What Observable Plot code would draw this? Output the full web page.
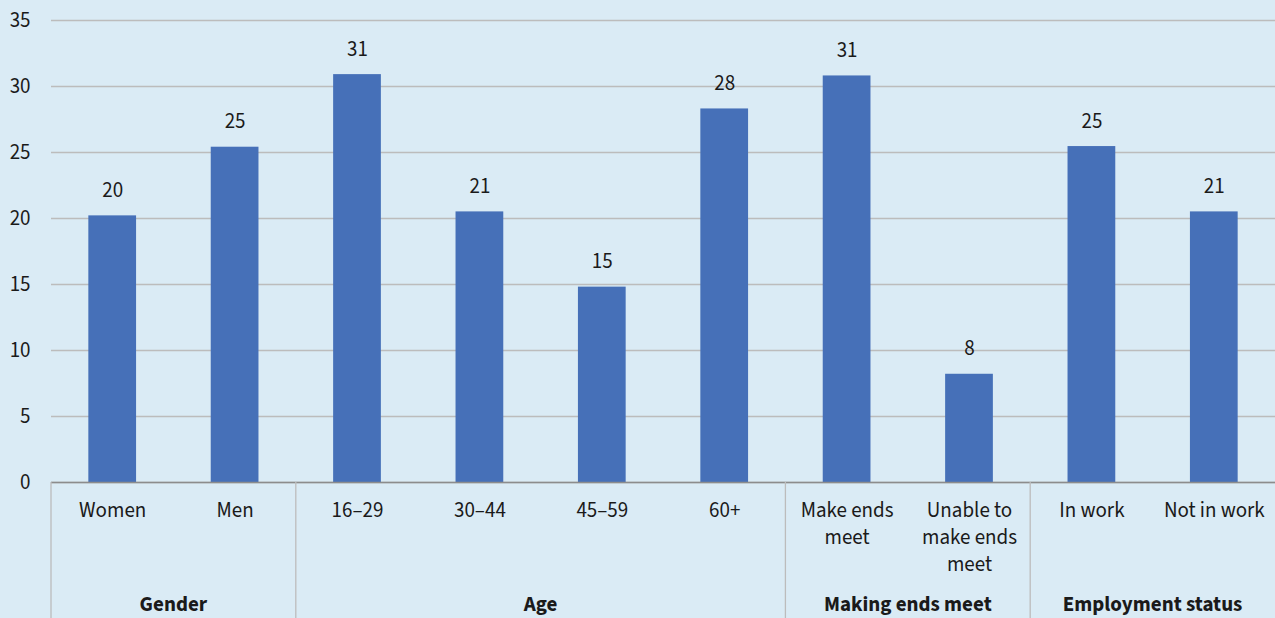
<!DOCTYPE html>
<html><head><meta charset="utf-8">
<script src="https://cdn.jsdelivr.net/npm/d3@7"></script>
<script src="https://cdn.jsdelivr.net/npm/@observablehq/plot@0.6"></script>
<style>
body{margin:0;background:#daebf5;}
#chart{width:1275px;height:618px;overflow:hidden;}
</style></head><body><div id="chart"></div>
<script>
const categories = ["Women","Men","16–29","30–44","45–59","60+","Make ends meet","Unable to make ends meet","In work","Not in work"];
const categoryLines = ["Women","Men","16–29","30–44","45–59","60+","Make ends\nmeet","Unable to\nmake ends\nmeet","In work","Not in work"];
const values = [20.2,25.4,30.9,20.5,14.8,28.3,30.8,8.2,25.45,20.5];
const valueLabels = ["20","25","31","21","15","28","31","8","25","21"];
const groups = ["Gender","Age","Making ends meet","Employment status"];
const groupOf = ["Gender","Gender","Age","Age","Age","Age","Making ends meet","Making ends meet","Employment status","Employment status"];
const yTicks = [0,5,10,15,20,25,30,35];

const data = categories.map((c,i)=>({cat:c, lines:categoryLines[i], value:values[i], label:valueLabels[i], group:groupOf[i]}));
const font = "'Source Sans Pro','Source Sans 3',Lato,sans-serif";
const fs = 21;

const plot = Plot.plot({
  width:1275, height:618,
  marginTop:20, marginBottom:136, marginLeft:51, marginRight:0,
  style:{background:"#daebf5", fontFamily:font, fontSize:fs+"px", color:"#1a1a1a"},
  x:{domain:categories, paddingInner:0.61, paddingOuter:0.305, round:false, label:null},
  y:{domain:[0,35], label:null},
  marks:[
    Plot.gridY(yTicks,{stroke:"#bcbcbc", strokeOpacity:1, strokeWidth:1.3}),
    Plot.axisY(yTicks,{tickSize:0, tickPadding:21, label:null, fontSize:fs, fill:"#1a1a1a"}),
    Plot.barY(data,{x:"cat", y:"value", fill:"#4670b8"}),
    Plot.ruleY([0],{stroke:"#8c8c8c", strokeWidth:1.5}),
    Plot.text(data,{x:"cat", y:"value", text:"label", lineAnchor:"bottom", dy:-19, fontSize:fs, fill:"#1a1a1a"}),
    Plot.axisX({tickSize:0, tickPadding:15, label:null, fontSize:fs, fill:"#1a1a1a", lineHeight:1.29,
      tickFormat:(d)=>categoryLines[categories.indexOf(d)]})
  ]
});
document.getElementById("chart").appendChild(plot);

// group labels and separators via Plot's own x scale
const xs = plot.scale("x");
const step = xs.step !== undefined ? xs.step : (xs.range[1]-xs.range[0])/categories.length;
const svg = d3.select(plot);
const bw = xs.bandwidth;
const yZero = plot.scale("y").apply(0);
const g = svg.append("g");
groups.forEach((grp)=>{
  const members = categories.filter((c,i)=>groupOf[i]===grp);
  const x0 = xs.apply(members[0]) + bw/2 - step/2;
  const x1 = xs.apply(members[members.length-1]) + bw/2 + step/2;
  g.append("line").attr("x1",x0).attr("x2",x0).attr("y1",yZero).attr("y2",618)
    .attr("stroke","#bcbcbc").attr("stroke-width",1.3);
  g.append("text").attr("x",(x0+x1)/2).attr("y",611).attr("text-anchor","middle")
    .attr("font-weight","bold").attr("font-size",fs).attr("fill","#1a1a1a").attr("font-family",font).text(grp);
});
</script></body></html>
